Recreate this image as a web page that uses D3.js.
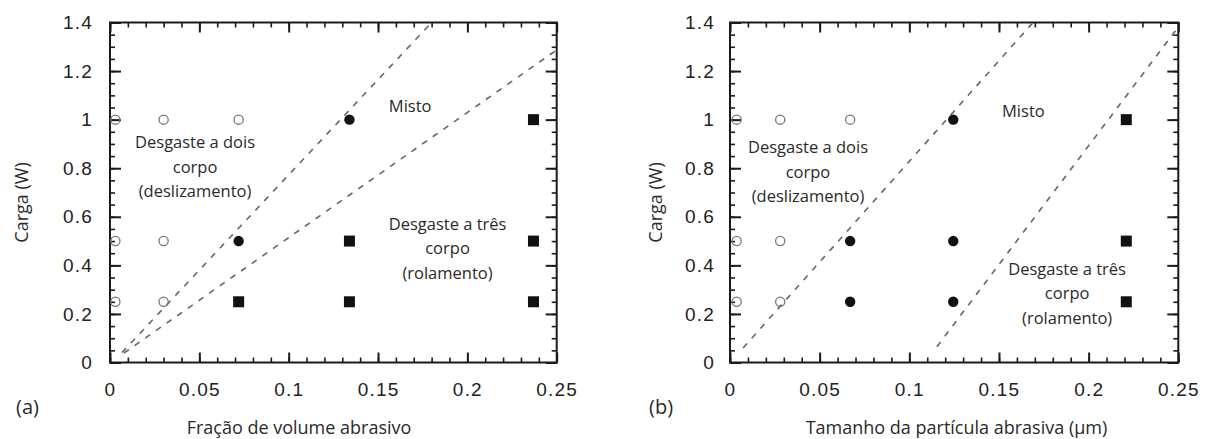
<!DOCTYPE html>
<html>
<head>
<meta charset="utf-8">
<script src="https://cdn.jsdelivr.net/npm/d3@7"></script>
<style>
  body { margin: 0; background: #fff; }
  #wrap { position: relative; width: 1211px; height: 439px; }
  #wrap svg { position: absolute; left: 0; top: 0; display: block; }
  .ticklab text { font-family: "Liberation Sans", Arial, sans-serif; font-size: 19px; letter-spacing: 1.2px; fill: #222; }
  .ann { font-family: "Open Sans", sans-serif; font-size: 16.5px; fill: #2a2a2a; }
  .title { font-family: "Open Sans", sans-serif; font-size: 18px; fill: #2a2a2a; }
</style>
</head>
<body>
<div id="wrap"></div>
<script>
// ---- data ----
let xTickValues = [0, 0.05, 0.1, 0.15, 0.2, 0.25];
let xTickLabels = ['0', '0.05', '0.1', '0.15', '0.2', '0.25'];
let yTickValues = [0, 0.2, 0.4, 0.6, 0.8, 1, 1.2, 1.4];
let yTickLabels = ['0', '0.2', '0.4', '0.6', '0.8', '1', '1.2', '1.4'];

// panel (a) - fracao de volume abrasivo
let openA = [[0.003, 1], [0.03, 1], [0.072, 1], [0.003, 0.5], [0.03, 0.5], [0.003, 0.25], [0.03, 0.25]];
let filledA = [[0.134, 1], [0.072, 0.5]];
let squaresA = [[0.237, 1], [0.134, 0.5], [0.237, 0.5], [0.072, 0.25], [0.134, 0.25], [0.237, 0.25]];
let linesA = [
  [[0.0067, 0.041], [0.18, 1.4]],
  [[0.0078, 0.039], [0.25, 1.287]]
];

// panel (b) - tamanho da particula abrasiva
let openB = [[0.0037, 1], [0.028, 1], [0.067, 1], [0.0037, 0.5], [0.028, 0.5], [0.0037, 0.25], [0.028, 0.25]];
let filledB = [[0.1245, 1], [0.067, 0.5], [0.1245, 0.5], [0.067, 0.25], [0.1245, 0.25]];
let squaresB = [[0.221, 1], [0.221, 0.5], [0.221, 0.25]];
let linesB = [
  [[0.0073, 0.06], [0.169, 1.4]],
  [[0.1154, 0.065], [0.2487, 1.369]]
];

// region labels: [x, y, lines]
let labelsA = [
  [0.168, 1.033, ['Misto']],
  [0.0476, 0.882, ['Desgaste a dois', 'corpo', '(deslizamento)']],
  [0.1889, 0.5456, ['Desgaste a três', 'corpo', '(rolamento)']]
];
let labelsB = [
  [0.1636, 1.012, ['Misto']],
  [0.0435, 0.861, ['Desgaste a dois', 'corpo', '(deslizamento)']],
  [0.188, 0.36, ['Desgaste a três', 'corpo', '(rolamento)']]
];

let width = 1211, height = 439;
let wrap = d3.select('#wrap');
// bottom layer: frames and axes; top layer: data and texts
let axesSvg = wrap.append('svg').attr('width', width).attr('height', height);
axesSvg.append('rect').attr('width', width).attr('height', height).attr('fill', '#fff');
let dataSvg = wrap.append('svg').attr('width', width).attr('height', height);

function drawPanel(p) {
  let x = d3.scaleLinear().domain([0, 0.25]).range([p.left, p.right]);
  let y = d3.scaleLinear().domain([0, 1.4]).range([p.bottom, p.top]);
  let ga = axesSvg.append('g');
  let g = dataSvg.append('g');

  // frame
  ga.append('rect')
    .attr('x', x(0)).attr('y', y(1.4))
    .attr('width', x(0.25) - x(0)).attr('height', y(0) - y(1.4))
    .attr('fill', 'none').attr('stroke', '#1a1a1a').attr('stroke-width', 2);

  // minor ticks on all four sides (inward)
  let xMinor = x.ticks(25);
  let yMinor = y.ticks(28);
  let minor = [
    [d3.axisBottom(x).tickValues(xMinor), `translate(0,${p.bottom})`],
    [d3.axisTop(x).tickValues(xMinor), `translate(0,${p.top})`],
    [d3.axisLeft(y).tickValues(yMinor), `translate(${p.left},0)`],
    [d3.axisRight(y).tickValues(yMinor), `translate(${p.right},0)`]
  ];
  for (let [ax, tr] of minor) {
    ga.append('g').attr('transform', tr)
      .call(ax.tickSize(-5).tickFormat(''))
      .call(s => s.select('.domain').remove())
      .call(s => s.selectAll('line').attr('stroke', '#1a1a1a').attr('stroke-width', 1.6));
  }

  // major ticks + labels
  ga.append('g').attr('class', 'ticklab').attr('transform', `translate(0,${p.bottom})`)
    .call(d3.axisBottom(x).tickValues(xTickValues).tickFormat((d, i) => xTickLabels[i]).tickSize(-10).tickPadding(20))
    .call(s => s.select('.domain').remove());
  ga.append('g').attr('class', 'major').attr('transform', `translate(0,${p.top})`)
    .call(d3.axisTop(x).tickValues(xTickValues).tickFormat('').tickSize(-10))
    .call(s => s.select('.domain').remove());
  ga.append('g').attr('class', 'ticklab').attr('transform', `translate(${p.left},0)`)
    .call(d3.axisLeft(y).tickValues(yTickValues).tickFormat((d, i) => yTickLabels[i]).tickSize(-11).tickPadding(p.ypad))
    .call(s => s.select('.domain').remove());
  ga.append('g').attr('class', 'major').attr('transform', `translate(${p.right},0)`)
    .call(d3.axisRight(y).tickValues(yTickValues).tickFormat('').tickSize(-11))
    .call(s => s.select('.domain').remove());
  ga.selectAll('.ticklab line, .major line').attr('stroke', '#1a1a1a').attr('stroke-width', 2);
  ga.selectAll('.ticklab').attr('font-size', null).attr('font-family', null);
  ga.selectAll('.ticklab text').attr('fill', '#222');

  // dashed boundaries between regimes
  let line = d3.line().x(d => x(d[0])).y(d => y(d[1]));
  g.selectAll('path.bound')
    .data(p.lines)
    .join('path')
      .attr('class', 'bound')
      .attr('d', line)
      .attr('fill', 'none')
      .attr('stroke', '#666')
      .attr('stroke-width', 1.6)
      .attr('stroke-dasharray', '6,7');

  // markers
  g.selectAll('circle.open')
    .data(p.open)
    .join('circle')
      .attr('class', 'open')
      .attr('cx', d => x(d[0])).attr('cy', d => y(d[1]))
      .attr('r', 4.6)
      .attr('fill', 'none').attr('stroke', '#777').attr('stroke-width', 1.3);
  g.selectAll('circle.filled')
    .data(p.filled)
    .join('circle')
      .attr('class', 'filled')
      .attr('cx', d => x(d[0])).attr('cy', d => y(d[1]))
      .attr('r', 5.2)
      .attr('fill', '#111');
  g.selectAll('rect.sq')
    .data(p.squares)
    .join('rect')
      .attr('class', 'sq')
      .attr('x', d => x(d[0]) - 5.5).attr('y', d => y(d[1]) - 5.5)
      .attr('width', 11).attr('height', 11)
      .attr('fill', '#111');

  // region labels
  let t = g.selectAll('text.ann')
    .data(p.labels)
    .join('text')
      .attr('class', 'ann')
      .attr('text-anchor', 'middle')
      .attr('x', d => x(d[0]))
      .attr('y', d => y(d[1]));
  t.selectAll('tspan')
    .data(d => d[2].map(s => ({ s, x: x(d[0]) })))
    .join('tspan')
      .attr('x', d => d.x)
      .attr('dy', (d, i) => i === 0 ? 0 : '1.47em')
      .text(d => d.s);

  // axis titles and panel tag
  g.append('text')
    .attr('class', 'title')
    .attr('text-anchor', 'middle')
    .attr('x', p.xTitleX).attr('y', 434)
    .text(p.xTitle);
  g.append('text')
    .attr('class', 'title')
    .attr('text-anchor', 'middle')
    .attr('transform', `translate(${p.yTitleX},${(p.top + p.bottom) / 2 + 10}) rotate(-90)`)
    .text('Carga (W)');
  g.append('text')
    .attr('class', 'title')
    .style('font-size', '20px')
    .attr('x', p.tagX).attr('y', 414)
    .text(p.tag);
}

drawPanel({
  left: 110, right: 556.7, top: 22.5, bottom: 362.5, ypad: 17,
  open: openA, filled: filledA, squares: squaresA, lines: linesA, labels: labelsA,
  xTitle: 'Fração de volume abrasivo', xTitleX: 299, yTitleX: 28, tag: '(a)', tagX: 16
});
drawPanel({
  left: 730, right: 1178.3, top: 22.5, bottom: 362.5, ypad: 15,
  open: openB, filled: filledB, squares: squaresB, lines: linesB, labels: labelsB,
  xTitle: 'Tamanho da partícula abrasiva (µm)', xTitleX: 956.5, yTitleX: 662, tag: '(b)', tagX: 649
});
</script>
</body>
</html>
